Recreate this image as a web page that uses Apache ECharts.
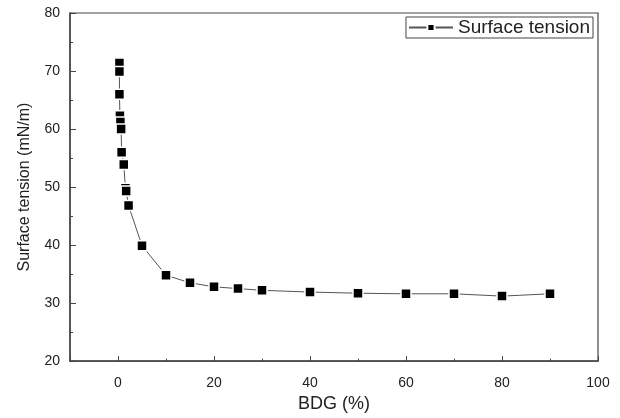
<!DOCTYPE html>
<html>
<head>
    <meta charset="UTF-8">
    <title>Surface tension vs BDG</title>
    <script type="text/javascript" src="https://cdn.jsdelivr.net/npm/echarts@6/dist/echarts.min.js"></script>
    <style>
        body { margin: 0; padding: 0; background: #fff; }
        #chart { width: 620px; height: 418px; }
    </style>
</head>
<body>
    <div id="chart"></div>
    <script>
        // data
        var bdg = [0.3, 0.3, 0.3, 0.4, 0.5, 0.65, 0.75, 1.2, 1.55, 1.7, 2.2, 5, 10, 15, 20, 25, 30, 40, 50, 60, 70, 80, 90];
        var tension = [71.4, 69.9, 66.0, 62.3, 61.2, 60.0, 56.0, 53.9, 49.8, 49.3, 46.8, 39.9, 34.8, 33.5, 32.8, 32.5, 32.2, 31.9, 31.7, 31.6, 31.6, 31.2, 31.6];
        var seriesName = 'Surface tension';

        var points = bdg.map(function (x, i) { return [x, tension[i]]; });

        var chart = echarts.init(document.getElementById('chart'), null, { renderer: 'canvas' });

        var axisColor = '#444';
        var textColor = '#222';
        var font = 'Arial, "Liberation Sans", sans-serif';

        var option = {
            animation: false,
            backgroundColor: '#fff',
            grid: {
                left: 70, right: 22, top: 13, bottom: 54,
                show: true,
                borderColor: axisColor,
                borderWidth: 1.2
            },
            legend: {
                data: [seriesName],
                right: 27,
                top: 17,
                borderColor: axisColor,
                borderWidth: 1,
                padding: [1, 3, 1, 2],
                itemWidth: 44,
                itemHeight: 9,
                itemGap: 4,
                textStyle: { fontSize: 19, color: textColor, fontFamily: font }
            },
            xAxis: [
                {
                    type: 'value',
                    min: -10,
                    max: 100,
                    splitNumber: 5,
                    name: 'BDG (%)',
                    nameLocation: 'middle',
                    nameGap: 33,
                    nameTextStyle: { fontSize: 18, color: textColor, fontFamily: font },
                    axisLine: { show: true, onZero: false, lineStyle: { color: axisColor, width: 1.5 } },
                    axisTick: { show: true, inside: true, length: 5, lineStyle: { color: axisColor } },
                    axisLabel: {
                        fontSize: 14, color: textColor, fontFamily: font, margin: 15,
                        formatter: function (v) { return v < 0 ? '' : String(v); }
                    },
                    splitLine: { show: false }
                },
                {
                    // minor ticks every 10
                    type: 'value',
                    position: 'bottom',
                    min: -10,
                    max: 100,
                    interval: 10,
                    axisLine: { show: false, onZero: false },
                    axisTick: { show: true, inside: true, length: 2.5, lineStyle: { color: axisColor } },
                    axisLabel: { show: false },
                    splitLine: { show: false }
                }
            ],
            yAxis: {
                type: 'value',
                min: 20,
                max: 80,
                interval: 10,
                name: 'Surface tension (mN/m)',
                nameLocation: 'middle',
                nameGap: 37,
                nameTextStyle: { fontSize: 16, color: textColor, fontFamily: font, padding: [0, 0, 0, 0] },
                axisLine: { show: true, onZero: false, lineStyle: { color: axisColor, width: 1.5 } },
                axisTick: { show: true, inside: true, length: 6, lineStyle: { color: axisColor } },
                minorTick: { show: true, splitNumber: 2, length: 3, lineStyle: { color: axisColor } },
                axisLabel: { fontSize: 14, color: textColor, fontFamily: font, margin: 10 },
                splitLine: { show: false }
            },
            series: [
                {
                    name: seriesName,
                    type: 'line',
                    xAxisIndex: 0,
                    data: points,
                    symbol: 'rect',
                    symbolSize: 10,
                    showAllSymbol: true,
                    lineStyle: { color: '#555', width: 1 },
                    itemStyle: { color: '#000', borderColor: '#fff', borderWidth: 1.5 }
                }
            ]
        };

        chart.setOption(option);
    </script>
</body>
</html>
